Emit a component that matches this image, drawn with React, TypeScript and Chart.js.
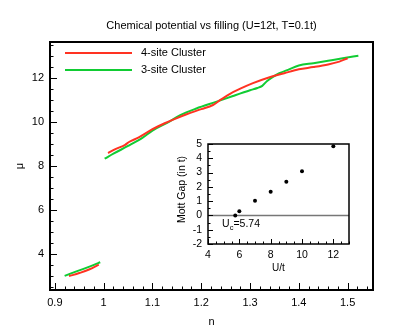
import React, { useEffect, useRef } from "react";
import { Chart, registerables } from "chart.js";

Chart.register(...registerables);

const FONT = "'Liberation Sans', Arial, Helvetica, sans-serif";

// ---------- main chart data ----------
const titleText = "Chemical potential vs filling (U=12t, T=0.1t)";
const xAxisLabel = "n";
const yAxisLabel = "μ";
const seriesLabels = ["4-site Cluster", "3-site Cluster"];
const seriesColors = ["#ff3322", "#11cc33"];

const xTickValues = [0.9, 1.0, 1.1, 1.2, 1.3, 1.4, 1.5];
const yTickValues = [4, 6, 8, 10, 12];

// 4-site cluster (red)
const fourLowN = [0.929, 0.95, 0.97, 0.99];
const fourLowMu = [2.99, 3.13, 3.29, 3.51];
const fourHighN = [1.009, 1.024, 1.044, 1.052, 1.071, 1.1, 1.125, 1.145, 1.17, 1.2, 1.224, 1.24, 1.259, 1.28, 1.306, 1.34, 1.37, 1.4, 1.43, 1.46, 1.483, 1.5];
const fourHighMu = [8.58, 8.76, 8.95, 9.08, 9.28, 9.66, 9.93, 10.12, 10.34, 10.57, 10.76, 11.0, 11.27, 11.5, 11.75, 12.02, 12.2, 12.38, 12.48, 12.6, 12.73, 12.88];

// 3-site cluster (green)
const threeLowN = [0.92, 0.94, 0.96, 0.98, 0.993];
const threeLowMu = [3.0, 3.17, 3.33, 3.5, 3.62];
const threeHighN = [1.002, 1.02, 1.05, 1.08, 1.1, 1.13, 1.157, 1.19, 1.23, 1.265, 1.3, 1.315, 1.325, 1.335, 1.347, 1.36, 1.38, 1.4, 1.43, 1.46, 1.49, 1.522];
const threeHighMu = [8.32, 8.55, 8.9, 9.28, 9.6, 9.95, 10.3, 10.6, 10.9, 11.17, 11.43, 11.53, 11.63, 11.85, 12.04, 12.2, 12.38, 12.55, 12.66, 12.77, 12.88, 13.0];

// ---------- inset data ----------
const insetXLabel = "U/t";
const insetYLabel = "Mott Gap (in t)";
const insetXTicks = [4, 6, 8, 10, 12];
const insetYTicks = [-2, -1, 0, 1, 2, 3, 4, 5];
const uValues = [5.74, 6, 7, 8, 9, 10, 12];
const gapValues = [0, 0.3, 1.02, 1.66, 2.35, 3.1, 4.85];
const ucAnnotation = { main: "U", sub: "c", rest: "=5.74" };
const ucAnchor = { x: 4.9, y: -0.62 };

function segmentPoints(lowN: number[], lowMu: number[], highN: number[], highMu: number[]) {
  const pts: { x: number; y: number | null }[] = [];
  lowN.forEach((n, i) => pts.push({ x: n, y: lowMu[i] }));
  pts.push({ x: (lowN[lowN.length - 1] + highN[0]) / 2, y: null });
  highN.forEach((n, i) => pts.push({ x: n, y: highMu[i] }));
  return pts;
}

const fmt = (v: number) => String(Math.round(v * 100) / 100);

const frameTicksPlugin = {
  id: "frameTicks",
  afterDatasetsDraw(chart: any, _args: any, opts: any) {
    const { ctx, chartArea: a, scales } = chart;
    const xs = scales.x;
    const ys = scales.y;
    ctx.save();
    ctx.strokeStyle = "#000";
    ctx.lineWidth = opts.tickWidth;
    const drawX = (v: number, len: number) => {
      const p = Math.round(xs.getPixelForValue(v)) + 0.5;
      ctx.beginPath();
      ctx.moveTo(p, a.bottom);
      ctx.lineTo(p, a.bottom - len);
      ctx.stroke();
    };
    const drawY = (v: number, len: number) => {
      const p = Math.round(ys.getPixelForValue(v)) + 0.5;
      ctx.beginPath();
      ctx.moveTo(a.left, p);
      ctx.lineTo(a.left + len, p);
      ctx.stroke();
    };
    for (let k = Math.ceil(xs.min / opts.xMinor - 1e-9); k * opts.xMinor <= xs.max + 1e-9; k++) drawX(k * opts.xMinor, opts.minor);
    for (let k = Math.ceil(ys.min / opts.yMinor - 1e-9); k * opts.yMinor <= ys.max + 1e-9; k++) drawY(k * opts.yMinor, opts.minor);
    xs.ticks.forEach((t: any) => drawX(t.value, opts.major));
    ys.ticks.forEach((t: any) => drawY(t.value, opts.major));
    ctx.lineWidth = opts.frameWidth;
    ctx.strokeRect(a.left, a.top, a.right - a.left, a.bottom - a.top);
    ctx.restore();
  },
};

const mainTextPlugin = {
  id: "mainText",
  afterDatasetsDraw(chart: any) {
    const { ctx, chartArea: a } = chart;
    ctx.save();
    ctx.fillStyle = "#000";
    ctx.textBaseline = "middle";
    // title, centred over the plot area
    ctx.font = `11px ${FONT}`;
    ctx.textAlign = "center";
    ctx.fillText(titleText, (a.left + a.right) / 2, a.top - 16.5);
    // legend
    ctx.textAlign = "left";
    chart.data.datasets.forEach((ds: any, i: number) => {
      const y = Math.round(a.top + 10.5 + i * 17);
      ctx.strokeStyle = ds.borderColor;
      ctx.lineWidth = 2;
      ctx.beginPath();
      ctx.moveTo(a.left + 15, y);
      ctx.lineTo(a.left + 82, y);
      ctx.stroke();
      ctx.fillText(ds.label, a.left + 91, y);
    });
    ctx.restore();
  },
};

const insetExtrasPlugin = {
  id: "insetExtras",
  beforeDatasetsDraw(chart: any) {
    const { ctx, chartArea: a, scales } = chart;
    const p = Math.round(scales.y.getPixelForValue(0)) + 0.5;
    ctx.save();
    ctx.strokeStyle = "#777";
    ctx.lineWidth = 1.5;
    ctx.beginPath();
    ctx.moveTo(a.left, p);
    ctx.lineTo(a.right, p);
    ctx.stroke();
    ctx.restore();
  },
  afterDatasetsDraw(chart: any) {
    const { ctx, chartArea: a, scales } = chart;
    ctx.save();
    ctx.fillStyle = "#000";
    ctx.textBaseline = "middle";
    // Uc annotation
    let x = scales.x.getPixelForValue(ucAnchor.x);
    const y = scales.y.getPixelForValue(ucAnchor.y);
    ctx.font = `10.5px ${FONT}`;
    ctx.fillText(ucAnnotation.main, x, y);
    x += ctx.measureText(ucAnnotation.main).width;
    ctx.font = `7.5px ${FONT}`;
    ctx.fillText(ucAnnotation.sub, x, y + 3.5);
    x += ctx.measureText(ucAnnotation.sub).width;
    ctx.font = `10.5px ${FONT}`;
    ctx.fillText(ucAnnotation.rest, x, y);
    // y axis title
    ctx.translate(a.left - 26, (a.top + a.bottom) / 2 - 4.5);
    ctx.rotate(-Math.PI / 2);
    ctx.textAlign = "center";
    ctx.font = `10.5px ${FONT}`;
    ctx.fillText(insetYLabel, 0, 0);
    ctx.restore();
  },
};

export default function App() {
  const mainRef = useRef<HTMLCanvasElement>(null);
  const insetRef = useRef<HTMLCanvasElement>(null);

  useEffect(() => {
    const main = new Chart(mainRef.current as HTMLCanvasElement, {
      type: "line",
      data: {
        datasets: [
          {
            label: seriesLabels[0],
            data: segmentPoints(fourLowN, fourLowMu, fourHighN, fourHighMu) as any,
            borderColor: seriesColors[0],
            backgroundColor: seriesColors[0],
            borderWidth: 2,
            pointRadius: 0,
            cubicInterpolationMode: "monotone",
            spanGaps: false,
          },
          {
            label: seriesLabels[1],
            data: segmentPoints(threeLowN, threeLowMu, threeHighN, threeHighMu) as any,
            borderColor: seriesColors[1],
            backgroundColor: seriesColors[1],
            borderWidth: 2,
            pointRadius: 0,
            cubicInterpolationMode: "monotone",
            spanGaps: false,
          },
        ],
      },
      options: {
        responsive: false,
        animation: false,
        devicePixelRatio: 1,
        layout: { padding: { left: 0, top: 42, right: 42, bottom: 0 } },
        plugins: {
          legend: { display: false },
          tooltip: { enabled: false },
          title: { display: false },
          frameTicks: { tickWidth: 1, frameWidth: 2, major: 7, minor: 3.5, xMinor: 0.02, yMinor: 0.5 },
        } as any,
        scales: {
          x: {
            type: "linear",
            min: 0.89,
            max: 1.552,
            afterBuildTicks: (s: any) => {
              s.ticks = xTickValues.map((v) => ({ value: v }));
            },
            afterFit: (s: any) => {
              s.height = 42;
            },
            grid: { display: false, drawTicks: false },
            border: { display: false },
            ticks: { autoSkip: false, color: "#000", font: { family: FONT, size: 11 }, padding: 6, maxRotation: 0, callback: (v: any) => fmt(Number(v)) },
            title: { display: true, text: xAxisLabel, color: "#000", font: { family: FONT, size: 11 }, padding: { top: 0, bottom: 3 } },
          },
          y: {
            type: "linear",
            min: 2.36,
            max: 13.62,
            afterBuildTicks: (s: any) => {
              s.ticks = yTickValues.map((v) => ({ value: v }));
            },
            afterFit: (s: any) => {
              s.width = 50;
            },
            grid: { display: false, drawTicks: false },
            border: { display: false },
            ticks: { autoSkip: false, color: "#000", font: { family: FONT, size: 11 }, padding: 6, callback: (v: any) => fmt(Number(v)) },
            title: { display: true, text: yAxisLabel, color: "#000", font: { family: FONT, size: 11 }, padding: { top: 13, bottom: 0 } },
          },
        },
      },
      plugins: [frameTicksPlugin, mainTextPlugin],
    });

    const inset = new Chart(insetRef.current as HTMLCanvasElement, {
      type: "scatter",
      data: {
        datasets: [
          {
            label: insetYLabel,
            data: uValues.map((u, i) => ({ x: u, y: gapValues[i] })),
            backgroundColor: "#000",
            borderColor: "#000",
            pointRadius: 2,
            pointBorderWidth: 0,
          },
        ],
      },
      options: {
        responsive: false,
        animation: false,
        devicePixelRatio: 1,
        layout: { padding: { left: 0, top: 14, right: 11, bottom: 0 } },
        plugins: {
          legend: { display: false },
          tooltip: { enabled: false },
          title: { display: false },
          frameTicks: { tickWidth: 1, frameWidth: 1.5, major: 5, minor: 2.5, xMinor: 0.5, yMinor: 0.5 },
        } as any,
        scales: {
          x: {
            type: "linear",
            min: 4,
            max: 13,
            afterBuildTicks: (s: any) => {
              s.ticks = insetXTicks.map((v) => ({ value: v }));
            },
            afterFit: (s: any) => {
              s.height = 36;
            },
            grid: { display: false, drawTicks: false },
            border: { display: false },
            ticks: { autoSkip: false, color: "#000", font: { family: FONT, size: 10.5 }, padding: 5, maxRotation: 0, callback: (v: any) => fmt(Number(v)) },
            title: { display: true, text: insetXLabel, color: "#000", font: { family: FONT, size: 10 }, padding: { top: 0, bottom: 5.7 } },
          },
          y: {
            type: "linear",
            min: -2,
            max: 5,
            afterBuildTicks: (s: any) => {
              s.ticks = insetYTicks.map((v) => ({ value: v }));
            },
            afterFit: (s: any) => {
              s.width = 58;
            },
            grid: { display: false, drawTicks: false },
            border: { display: false },
            ticks: { autoSkip: false, color: "#000", font: { family: FONT, size: 10.5 }, padding: 6, callback: (v: any) => fmt(Number(v)) },
          },
        },
      },
      plugins: [insetExtrasPlugin, frameTicksPlugin],
    });

    return () => {
      main.destroy();
      inset.destroy();
    };
  }, []);

  return (
    <div style={{ position: "fixed", left: 0, top: 0, width: 415, height: 332, background: "#fff" }}>
      <canvas ref={mainRef} width={415} height={332} style={{ position: "absolute", left: 0, top: 0 }} />
      <canvas ref={insetRef} width={210} height={150} style={{ position: "absolute", left: 150, top: 130 }} />
    </div>
  );
}
